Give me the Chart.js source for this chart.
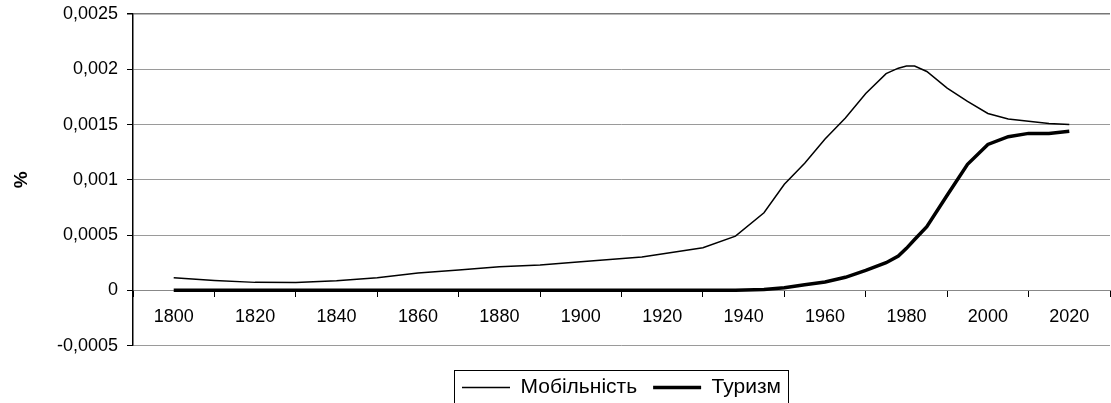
<!DOCTYPE html>
<html lang="uk">
<head>
<meta charset="UTF-8" />
<title>Мобільність і туризм</title>
<script src="https://cdn.jsdelivr.net/npm/chart.js@4.4.1/dist/chart.umd.min.js"></script>
<style>
  html, body { margin: 0; padding: 0; overflow: hidden; background: #fff; }
</style>
</head>
<body>
<canvas id="chart" width="1120" height="408"></canvas>
<script>
// values (share, %)
const years = [1800, 1810, 1820, 1830, 1840, 1850, 1860, 1870, 1880, 1890, 1900, 1915, 1930, 1938,
  1945, 1950, 1955, 1960, 1965, 1970, 1975, 1978, 1980, 1982, 1985, 1990, 1995, 2000, 2005, 2010, 2015, 2020];
const mobility = [0.000114, 0.00009, 0.000072, 0.00007, 0.000087, 0.000114, 0.000156, 0.000184, 0.000214, 0.000229,
  0.000259, 0.000301, 0.000385, 0.00049, 0.000702, 0.00096, 0.00115, 0.00137, 0.00156, 0.00178, 0.00196, 0.00201,
  0.00203, 0.00203, 0.00198, 0.00183, 0.00171, 0.0016, 0.00155, 0.00153, 0.00151, 0.0015];
const tourism = [0, 0, 0, 0, 0, 0, 0, 0, 0, 0, 0, 0, 0, 0, 0.000008, 0.000024, 0.00005, 0.000075, 0.000118,
  0.00018, 0.00025, 0.00031, 0.00038, 0.00046, 0.000575, 0.00086, 0.00114, 0.00132, 0.00139, 0.00142, 0.00142, 0.00144];
const xLabelYears = [1800, 1820, 1840, 1860, 1880, 1900, 1920, 1940, 1960, 1980, 2000, 2020];
const seriesNames = ["Мобільність", "Туризм"];

const FONT = "'Liberation Sans', Arial, sans-serif";

// frame round the legend, like the Excel one
const legendBox = {
  id: "legendBox",
  afterDraw(chart) {
    const boxes = chart.legend && chart.legend.legendHitBoxes;
    if (!boxes || !boxes.length) return;
    const left = Math.min(...boxes.map((b) => b.left)) - 8;
    const right = Math.max(...boxes.map((b) => b.left + b.width)) + 7;
    const top = boxes[0].top - 7;
    const ctx = chart.ctx;
    ctx.save();
    ctx.strokeStyle = "#000";
    ctx.lineWidth = 1;
    ctx.strokeRect(Math.round(left) + 0.5, Math.round(top) + 0.5, Math.round(right - left), 60);
    ctx.restore();
  },
};

const pts = (vals) => years.map((y, i) => ({ x: y, y: vals[i] }));

new Chart(document.getElementById("chart"), {
  type: "line",
  data: {
    datasets: [
      { label: seriesNames[0], data: pts(mobility), borderColor: "#000", backgroundColor: "#000", borderWidth: 1.5, pointRadius: 0, tension: 0, fill: false },
      { label: seriesNames[1], data: pts(tourism), borderColor: "#000", backgroundColor: "#000", borderWidth: 3.5, pointRadius: 0, tension: 0, fill: false },
    ],
  },
  options: {
    responsive: false,
    animation: false,
    devicePixelRatio: 1,
    layout: { padding: { left: 0, top: 14, right: 2, bottom: 0 } },
    plugins: {
      tooltip: { enabled: false },
      legend: {
        position: "bottom",
        fullSize: false,
        title: { display: true, text: "", padding: { top: 1, bottom: 0 } },
        labels: {
          usePointStyle: true,
          pointStyle: "line",
          pointStyleWidth: 48,
          color: "#000",
          padding: 16,
          font: { family: FONT, size: 21 },
        },
      },
    },
    scales: {
      x: {
        type: "linear",
        min: 1790,
        max: 2030,
        position: { y: 0 },
        border: { display: true, color: "#888", width: 1 },
        grid: {
          drawOnChartArea: false,
          tickLength: 6,
          tickColor: (c) => (c.tick && c.tick.value % 20 === 10 ? "#000" : "rgba(0,0,0,0)"),
        },
        ticks: {
          stepSize: 10,
          autoSkip: false,
          maxRotation: 0,
          padding: 10,
          color: "#000",
          font: { family: FONT, size: 18 },
          callback: (v) => (xLabelYears.includes(v) ? String(v) : ""),
        },
      },
      y: {
        min: -0.0005,
        max: 0.0025,
        border: { display: true, color: "#000", width: 1.5 },
        grid: {
          color: (c) => (c.tick && Math.abs(c.tick.value - 0.0025) < 1e-9 ? "#777" : "#9a9a9a"),
          lineWidth: (c) => (c.tick && Math.abs(c.tick.value - 0.0025) < 1e-9 ? 1.5 : 1),
          tickColor: "#000",
          tickLength: 6,
        },
        ticks: {
          stepSize: 0.0005,
          padding: 9,
          color: "#000",
          font: { family: FONT, size: 18 },
          callback: (v) => String(+v.toFixed(4)).replace(".", ","),
        },
        title: {
          display: true,
          text: "%",
          color: "#000",
          font: { family: FONT, size: 19, weight: 700 },
          padding: { top: 10, bottom: 0 },
        },
        afterFit: (s) => {
          s.width = 133;
          s.paddingTop = 4;
          s.paddingBottom = 4;
        },
      },
    },
  },
  plugins: [legendBox],
});
</script>
</body>
</html>
